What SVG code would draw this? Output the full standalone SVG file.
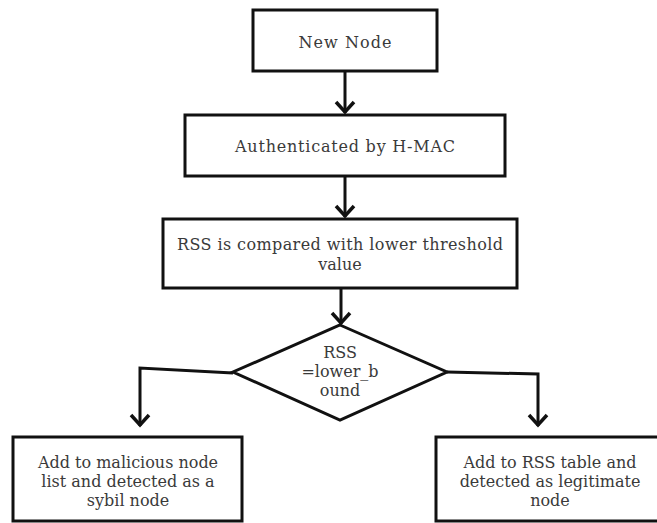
<svg xmlns="http://www.w3.org/2000/svg" width="657" height="523" viewBox="0 0 657 523">
<defs>
<style>
.box{fill:#fff;stroke:#111;stroke-width:3}
.t{font-family:"DejaVu Serif","Liberation Serif",serif;font-size:16px;fill:#3a3a3a;text-anchor:middle}
.c{fill:none;stroke:#111;stroke-width:3;stroke-linejoin:miter}
.h{fill:none;stroke:#111;stroke-width:3.5;stroke-linejoin:miter;stroke-linecap:butt}
</style>
</defs>
<rect width="657" height="523" fill="#fff"/>
<g id="connectors">
<line class="c" x1="345" y1="71" x2="345" y2="113"/>
<polyline class="h" points="336,102 345,112 354,102"/>
<line class="c" x1="345" y1="176" x2="345" y2="217"/>
<polyline class="h" points="336,206 345,216 354,206"/>
<line class="c" x1="341" y1="288" x2="341" y2="324"/>
<polyline class="h" points="332,313 341,323 350,313"/>
<polyline class="c" points="233,373 140,368 140,426"/>
<polyline class="h" points="131,415 140,425 149,415"/>
<polyline class="c" points="447,372 538,374 538,426"/>
<polyline class="h" points="529,415 538,425 547,415"/>
</g>
<g id="n1">
<rect class="box" x="253" y="10" width="184" height="61"/>
<text class="t" x="345" y="48" textLength="93" lengthAdjust="spacing">New Node</text>
</g>
<g id="n2">
<rect class="box" x="185" y="115" width="320" height="61"/>
<text class="t" x="345" y="152" textLength="220" lengthAdjust="spacing">Authenticated by H-MAC</text>
</g>
<g id="n3">
<rect class="box" x="163" y="219" width="354" height="69"/>
<text class="t" x="340" y="250" textLength="326" lengthAdjust="spacing">RSS is compared with lower threshold</text>
<text class="t" x="340" y="270">value</text>
</g>
<g id="n4">
<polygon class="box" points="340,325 447,372 340,420 233,372"/>
<text class="t" x="340" y="358">RSS</text>
<text class="t" x="340" y="377">=lower_b</text>
<text class="t" x="340" y="396">ound</text>
</g>
<g id="n5">
<rect class="box" x="13" y="437" width="229" height="84"/>
<text class="t" x="128" y="468">Add to malicious node</text>
<text class="t" x="128" y="487">list and detected as a</text>
<text class="t" x="128" y="506">sybil node</text>
</g>
<g id="n6">
<rect class="box" x="436" y="437" width="228" height="84"/>
<text class="t" x="550" y="468">Add to RSS table and</text>
<text class="t" x="550" y="487">detected as legitimate</text>
<text class="t" x="550" y="506">node</text>
</g>
</svg>
